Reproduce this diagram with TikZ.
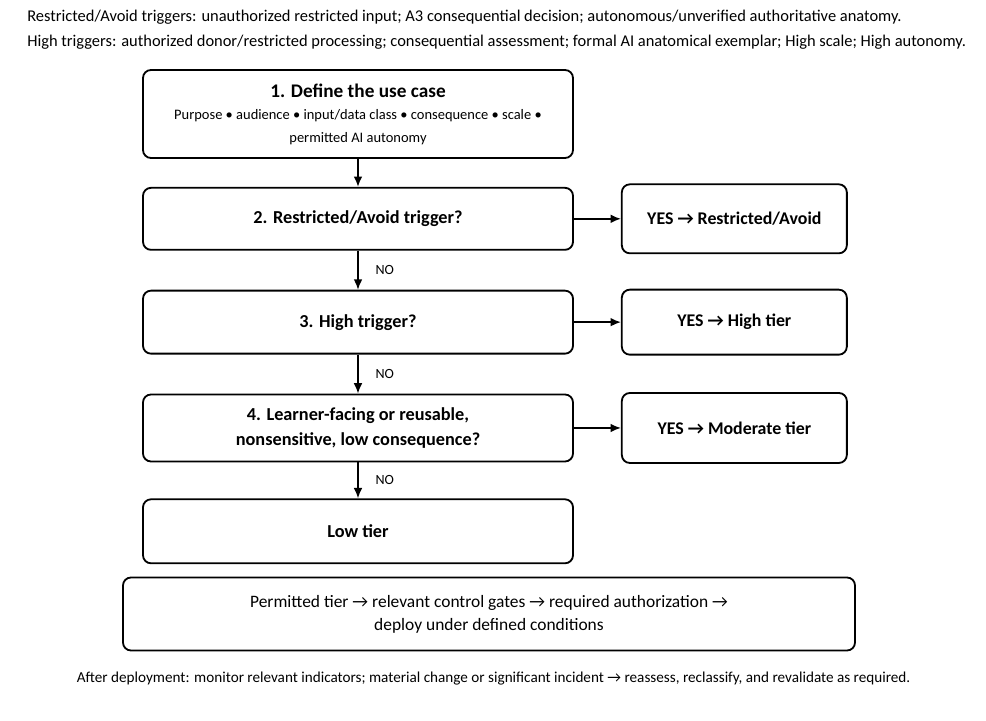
\documentclass[tikz,border=0pt]{standalone}
\usepackage{fontspec}
\setmainfont{Carlito}
\usetikzlibrary{positioning,arrows.meta}

\tikzstyle{layer} = [align=center,draw=black,line width=1.3pt,rounded corners=0.2cm,rectangle,text centered,minimum width=10.75cm,font=\bfseries\fontsize{13}{16}\selectfont]
\tikzstyle{outcome} = [layer,minimum width=5.625cm,font=\bfseries\fontsize{12.7}{15}\selectfont]
\tikzstyle{note} = [font=\fontsize{11.7}{14}\selectfont,inner sep=0pt]
\tikzstyle{flow} = [->,>={Latex[length=2.6mm,width=2.2mm]},line width=1.2pt]
\tikzstyle{answer} = [right,xshift=0.3cm,font=\fontsize{10}{12}\selectfont]

\begin{document}
\begin{tikzpicture}
	\useasboundingbox (0,0) rectangle (24.65,-18.025);
	% trigger notes
	\node (restrictednote) [note,anchor=west] at (0.675,-0.425) {Restricted/Avoid triggers: unauthorized restricted input; A3 consequential decision; autonomous/unverified authoritative anatomy.};
	\node (highnote) [note,anchor=west] at (0.675,-1.05) {High triggers: authorized donor/restricted processing; consequential assessment; formal AI anatomical exemplar; High scale; High autonomy.};
	% decision steps
	\node (define) [layer,minimum height=2.2cm] at (8.95,-2.85) {{\fontsize{13.7}{16}\selectfont 1. Define the use case}\\[0pt]{\mdseries\fontsize{10.3}{16.5}\selectfont Purpose \textbullet{} audience \textbullet{} input/data class \textbullet{} consequence \textbullet{} scale \textbullet}\\{\mdseries\fontsize{10.3}{16.5}\selectfont permitted AI autonomy}};
	\node (restricted) [layer,minimum height=1.55cm,below=0.7cm of define] {2. Restricted/Avoid trigger?};
	\node (high) [layer,minimum height=1.575cm,below=0.975cm of restricted] {3. High trigger?};
	\node (moderate) [layer,minimum height=1.675cm,below=0.975cm of high,font=\bfseries\fontsize{13}{18}\selectfont] {4. Learner-facing or reusable,\\nonsensitive, low consequence?};
	\node (low) [layer,minimum height=1.6cm,below=0.9cm of moderate] {Low tier};
	% outcomes
	\node (restrictedtier) [outcome,minimum height=1.725cm,right=1.175cm of restricted] {YES → Restricted/Avoid};
	\node (hightier) [outcome,minimum height=1.625cm,right=1.175cm of high] {YES → High tier};
	\node (moderatetier) [outcome,minimum height=1.75cm,right=1.175cm of moderate] {YES → Moderate tier};
	% deployment
	\node (deploy) [layer,minimum width=18.3cm,minimum height=1.825cm,font=\fontsize{12.4}{16.5}\selectfont] at (12.225,-15.35) {Permitted tier → relevant control gates → required authorization →\\deploy under defined conditions};
	\node (monitor) [note,font=\fontsize{10.8}{13}\selectfont] at (12.34,-16.975) {After deployment: monitor relevant indicators; material change or significant incident → reassess, reclassify, and revalidate as required.};
	% connections
	\draw [flow] (define) -- (restricted);
	\draw [flow] (restricted) -- node[answer] {NO} (high);
	\draw [flow] (high) -- node[answer] {NO} (moderate);
	\draw [flow] (moderate) -- node[answer] {NO} (low);
	\draw [flow] (restricted) -- (restrictedtier);
	\draw [flow] (high) -- (hightier);
	\draw [flow] (moderate) -- (moderatetier);
\end{tikzpicture}
\end{document}
